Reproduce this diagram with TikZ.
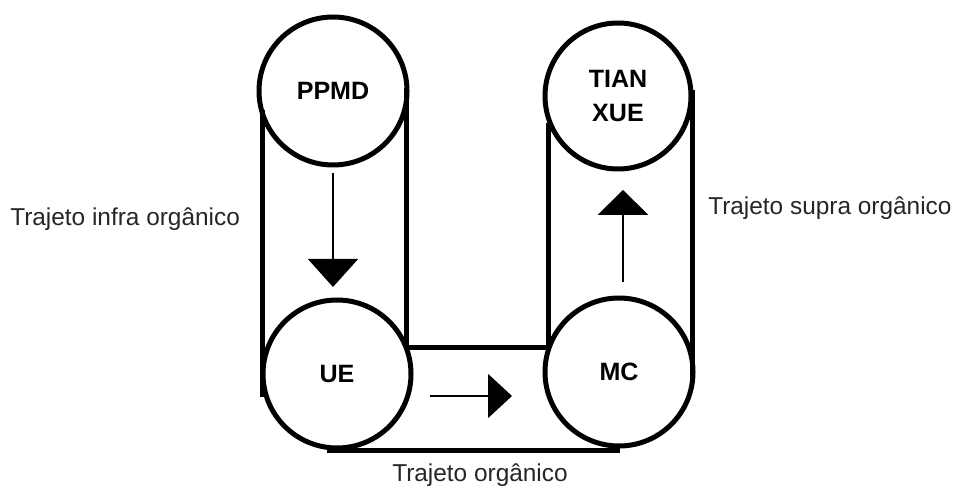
\documentclass[tikz,border=0pt]{standalone}
\usepackage{fontspec}
\setmainfont{Liberation Sans}
\usetikzlibrary{arrows.meta}
\begin{document}
\begin{tikzpicture}[x=0.75pt,y=-0.75pt,
  belt/.style={line width=3.75pt},
  wheel/.style={circle,draw,line width=3.75pt,inner sep=0pt,
    font=\fontsize{18.8}{25.5}\selectfont\bfseries,align=center,text=black},
  lbl/.style={font=\fontsize{18.3}{22}\selectfont,text=black!85,inner sep=0pt,anchor=base west},
  flow/.style={line width=1.1pt}]
\useasboundingbox[fill=white] (0,0) rectangle (956,488);

% belt coordinates
\coordinate (l1a) at (262,110);
\coordinate (l1b) at (262,397);
\coordinate (r1a) at (406,88);
\coordinate (r1b) at (406,347);
\coordinate (l2a) at (548,123);
\coordinate (l2b) at (548,347);
\coordinate (r2a) at (692,90);
\coordinate (r2b) at (692,383);
\coordinate (ba) at (327,450);
\coordinate (bb) at (620,450);

\draw[belt] (l1a) -- (l1b);
\draw[belt] (r1a) -- (r1b) -- (l2b) -- (l2a);
\draw[belt] (r2a) -- (r2b);
\draw[belt] (ba) -- (bb);

% wheels
\node[wheel,minimum size=111pt] (ppmd) at (333,91) {PPMD};
\node[wheel,minimum size=111pt] (ue) at (337,374) {UE};
\node[wheel,minimum size=109.5pt] (tian) at (618,96) {TIAN\\XUE};
\node[wheel,minimum size=111pt] (mc) at (619,372) {MC};

% flow arrows
\coordinate (d1) at (333,173);
\coordinate (d2) at (333,287);
\coordinate (h1) at (430,396);
\coordinate (h2) at (512,396);
\coordinate (u1) at (623,282);
\coordinate (u2) at (623,190);
\draw[flow,-{Triangle[length=21pt,width=37.5pt]}] (d1) -- (d2);
\draw[flow,-{Triangle[length=18pt,width=33pt]}] (h1) -- (h2);
\draw[flow,-{Triangle[length=18.75pt,width=38pt]}] (u1) -- (u2);

% labels
\node[lbl] (infra) at (10,226) {Trajeto infra orgânico};
\node[lbl] (supra) at (708,215) {Trajeto supra orgânico};
\node[lbl] (org) at (392,481) {Trajeto orgânico};
\end{tikzpicture}
\end{document}
